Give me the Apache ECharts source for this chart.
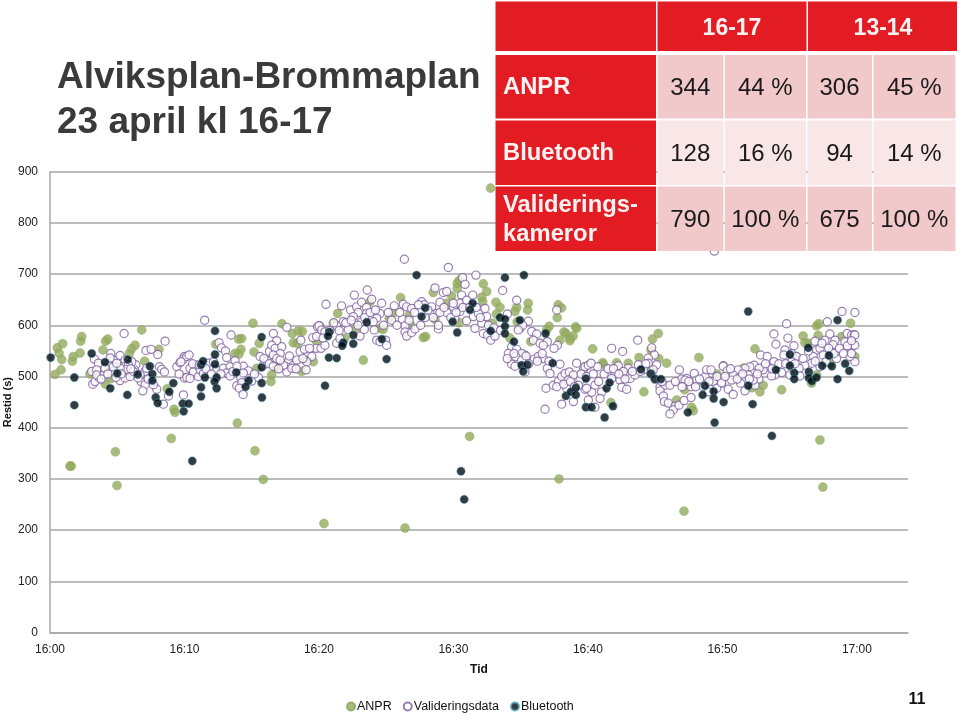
<!DOCTYPE html>
<html>
<head>
<meta charset="utf-8">
<style>html,body{margin:0;padding:0;background:#fff}#c{width:960px;height:715px}</style>
<script src="https://cdn.jsdelivr.net/npm/echarts@6/dist/echarts.min.js"></script>
</head>
<body>
<div id="c"></div>
<script>
// Each point: [minutes after 16:00, travel time in seconds]
const anprData = [[.37,504],[.82,513],[.87,533],[.54,556],[.67,546],[.94,564],[1.66,530],[1.73,539],[2.23,546],[2.28,569],[2.36,578],[4.14,569],[4.29,573],[3.94,552],[2.97,505],[4.11,485],[4.54,496],[4.83,522],[6.82,591],[6.32,561],[6.07,554],[5.9,545],[8.1,553],[7.04,530],[8.72,476],[9.22,436],[9.29,430],[9.02,379],[1.49,325],[1.58,325],[4.86,353],[4.98,287],[13.93,409],[15.24,355],[15.86,299],[12.32,563],[15.09,604],[14.03,573],[14.25,574],[14.2,553],[13.75,545],[14.05,544],[15.17,548],[15.56,565],[15.37,516],[16.48,503],[16.43,490],[16.73,518],[16.9,519],[17.25,603],[18.02,584],[18.46,589],[18.76,588],[18.09,566],[18.39,565],[18.71,510],[18.96,532],[19.58,529],[19.83,568],[21.07,604],[21.39,623],[32.76,868],[23.8,646],[23.3,532],[21.93,575],[22.8,596],[24.54,594],[24.78,592],[26.07,654],[25.58,625],[25.23,614],[26.72,620],[26.82,601],[27.76,576],[27.93,578],[28.62,612],[28.5,664],[29.49,643],[29.87,657],[30.28,672],[30.28,682],[30.43,688],[30.43,605],[32.22,681],[32.47,666],[32.1,655],[32.17,646],[33.16,645],[33.46,635],[33.2,622],[32.91,604],[34.7,635],[34.57,627],[34.74,607],[35.56,643],[35.51,630],[34.2,575],[37.12,598],[36.93,591],[35.74,568],[37.79,640],[38.04,634],[37.72,615],[38.22,587],[38.36,584],[37.92,571],[38.66,575],[38.9,579],[38.66,570],[39.08,597],[39.16,594],[40.35,554],[35.3,542],[39.78,519],[37.85,300],[31.2,383],[26.4,204],[20.37,213],[47.14,237],[57.25,376],[57.47,284],[41.1,527],[41.14,524],[42.13,527],[43,526],[43.8,537],[44.8,573],[45.23,584],[44.69,552],[45.27,535],[45.85,526],[44.16,470],[41.71,449],[44.74,513],[46.6,454],[47.2,474],[48.25,537],[47.7,440],[47.83,433],[49.6,505],[52.2,478],[52.42,554],[53.03,483],[52.79,470],[54.4,474],[56,579],[56.38,565],[56.13,566],[55.5,539],[57,599],[57.17,603],[57.12,580],[59.53,604],[58.86,578],[59.85,539],[56.63,487],[57,503],[57.99,526],[51.55,516]];
const validationData = [[5.51,584],[8.56,569],[7.14,551],[7.52,553],[8.01,543],[4.52,545],[5.21,541],[3.3,534],[4.71,532],[3.6,526],[4.34,523],[5.58,532],[6.38,523],[5.46,519],[6.08,529],[5.83,523],[3.1,510],[3.47,513],[3.18,485],[3.35,490],[3.65,498],[3.47,503],[4.02,503],[4.09,516],[5.58,510],[5.21,492],[5.58,497],[5.95,500],[5.71,514],[6.28,513],[7.07,510],[7.19,516],[6.77,490],[7.07,484],[6.9,472],[7.94,475],[7.69,484],[8.14,519],[8.31,514],[8.51,509],[8.81,462],[8.43,446],[9.43,519],[9.67,527],[9.99,539],[9.92,464],[10,497],[5.21,516],[4.71,519],[4.47,536],[4.96,526],[6.2,510],[6.7,503],
[11.5,610],[13.46,581],[12.57,566],[12.75,556],[13.04,550],[9.92,534],[10.17,539],[10.34,542],[9.74,529],[10.91,522],[10.41,516],[10.66,509],[10.17,498],[10.41,496],[11.03,500],[11.16,513],[11.41,506],[11.78,526],[12.15,516],[12.4,513],[12.15,529],[13.14,537],[13.76,531],[12.89,516],[13.39,519],[13.14,507],[13.39,501],[14.38,520],[14.75,511],[14.18,498],[14.38,507],[13.89,482],[14.26,488],[14.08,477],[14.36,465],[15,491],[15.5,498],[15.62,539],[16.17,531],[15.87,522],[16.32,549],[16.61,584],[16.86,570],[16.49,561],[16.74,555],[17.23,558],[17.11,545],[16.61,542],[16.86,535],[17.61,596],[17.73,529],[17.56,519],[17.61,509],[17.36,522],[18.1,522],[18.35,532],[18.6,549],[18.92,553],[19.47,539],[19.09,529],[19.04,513],[18.65,571],[19.54,576],[19.79,555],[19.89,597],[20.04,599],[17.98,516],[17.11,532],
[26.35,729],[29.62,713],[20.52,641],[21.68,638],[22.63,659],[23.59,669],[23.92,651],[24.66,643],[22.35,630],[22.8,636],[23.17,645],[23.54,635],[22.92,625],[22.55,617],[23.17,607],[23.54,623],[24.54,623],[24.29,614],[24.04,607],[24.11,591],[23.05,579],[23.37,592],[21.81,607],[21.31,599],[22.18,592],[20,599],[20.2,591],[20.44,587],[19.82,578],[20.15,555],[20.44,561],[21.31,565],[21.56,574],[24.29,571],[24.54,568],[24.96,571],[25.03,561],[25.16,625],[25.6,638],[26.27,641],[26.52,636],[26.2,612],[26.4,599],[26.4,587],[26.52,579],[26.89,586],[27.14,593],[27.56,600],[26.89,633],[27.64,646],[27.83,640],[28.38,636],[29,645],[28.63,673],[29.25,664],[29.5,666],[28.88,593],[28.88,600],[28.75,623],[28.26,623],[29.5,625],[30,636],[30.1,613],
[30.68,693],[30.86,680],[31.67,698],[33.66,668],[34.7,649],[30.61,659],[31.43,659],[30.48,643],[30.98,649],[29.99,643],[30.48,627],[30.98,609],[31.48,617],[31.6,594],[32.1,604],[32.34,633],[32.47,617],[31.85,623],[32.22,584],[32.54,581],[32.77,571],[33.09,579],[34.01,622],[35.57,608],[34.95,594],[35.15,600],[34.82,591],[35.82,588],[36.19,583],[35.94,571],[36.44,565],[36.98,568],[36.68,561],[37.68,630],[37.73,561],[37.48,555],[34.33,558],[34.08,545],[34.7,553],[35.07,545],[34.63,539],[34.33,524],[34.58,520],[35.32,509],[35.07,532],[36.01,534],[36.31,539],[36.68,535],[36.24,530],[37.92,524],[36.98,516],[37.18,506],[36.88,477],[37.43,483],[37.8,490],[38.05,500],[38.3,506],[38.62,509],[39.16,526],[38.92,503],[39.41,493],[39.66,513],[39.78,519],[40.03,522],[38.05,446],[36.81,436],[39.78,475],[38.92,451],[38.42,477],[37.68,480],[38.54,493],[39.29,483],
[43.7,571],[41.76,555],[42.58,549],[44.74,556],[44.94,542],[44.49,536],[45.11,523],[40.72,519],[40.23,526],[42.26,521],[43.75,523],[43,516],[42.63,510],[42.01,506],[41.76,496],[42.38,493],[43.13,496],[43.5,503],[42.76,495],[42.51,479],[42.88,475],[41.02,470],[40.9,457],[40.52,483],[40.28,469],[40.03,454],[40.52,440],[39.9,477],[45.36,480],[45.73,483],[46.1,483],[45.36,472],[45.61,462],[45.68,451],[45.98,448],[46.48,442],[46.35,435],[46.1,427],[46.77,444],[47.15,453],[47.67,459],[46.8,513],[46.97,495],[47.67,480],[47.91,506],[48.09,493],[47.34,496],[48.71,500],[48.83,513],[49.15,513],[49.33,490],[48.58,480],[49.95,487],[48.96,470],[50.07,521],[49.58,477],[47.22,493],[44.49,526],[44.86,513],[44.12,513],[49.4,745],
[58.89,627],[59.85,625],[57.8,607],[54.77,603],[53.83,583],[54.87,575],[53.98,563],[56.88,569],[57.99,583],[59.28,584],[59.61,581],[59.8,581],[58.37,571],[57.62,571],[58.24,562],[59.73,561],[59.11,568],[55.32,560],[54.65,552],[55.14,545],[57,552],[57.25,555],[57.5,542],[58.49,535],[58.12,548],[59.53,545],[59.85,529],[59.48,539],[52.84,542],[53.33,539],[53.83,529],[54.57,542],[55.51,539],[55.14,529],[56.75,539],[56.63,526],[56.13,522],[55.71,516],[53.4,519],[54.4,508],[53.9,503],[53.03,513],[52.71,495],[52.36,522],[52.04,519],[51.67,516],[51.17,513],[50.06,520],[50.36,511],[50.8,503],[50.68,493],[49.93,488],[51.35,487],[50.43,475],[50.8,465],[51.67,472],[52.41,483],[51.92,503],[57.25,519],[57.7,529],[55.76,501],[55.02,503],[53.65,501],[52.29,493],[52.74,516],[59.85,561],[59.6,545],[59.85,581],
[3.8,495],[4.3,505],[4.9,498],[5.3,505],[6.0,515],[6.55,497],[7.3,495],[9.6,505],[10.6,525],[11.1,523],[11.6,515],[12.0,505],[12.7,505],[13.6,510],[13.9,520],[15.2,505],[15.9,535],[16.3,525],[16.6,520],[17.0,515],[17.8,540],[18.3,515],[18.8,535],[19.3,555],[20.3,575],[20.8,590],[21.1,605],[21.5,590],[22.0,605],[22.4,610],[22.9,600],[23.4,615],[23.8,625],[24.2,630],[24.8,600],[25.4,610],[25.8,600],[26.0,625],[26.7,610],[27.1,625],[27.4,640],[27.9,615],[28.1,630],[28.5,615],[29.0,625],[29.3,635],[29.8,615],[30.2,625],[30.7,635],[31.2,635],[31.7,635],[32.0,615],[32.6,600],[33.0,595],[33.5,590],[34.0,535],[34.5,545],[35.4,540],[35.6,525],[36.6,545],[37.1,530],[38.2,485],[38.7,490],[39.0,480],[39.5,505],[39.9,500],[40.4,505],[40.8,490],[41.2,505],[41.5,515],[41.9,515],[42.3,505],[43.3,510],[43.9,510],[44.3,525],[44.7,505],[45.0,495],[45.5,490],[46.5,490],[47.0,480],[47.5,490],[48.0,480],[48.3,495],[49.0,490],[49.6,500],[50.2,500],[50.6,515],[51.1,495],[51.5,505],[52.0,495],[52.6,505],[53.2,525],[53.7,515],[54.2,525],[54.7,525],[55.4,525],[56.0,535],[56.4,550],[56.9,530],[57.4,565],[57.9,555],[58.3,545],[58.7,555],[59.0,545],[59.3,560],[59.6,570]];
const bluetoothData = [[.05,537],[1.81,498],[1.81,444],[3.1,545],[4.09,528],[5,506],[4.48,477],[5.78,533],[6.52,504],[5.75,464],[7.43,520],[7.61,505],[7.61,492],[9.17,487],[8.87,470],[7.86,459],[8.01,448],[9.87,447],[10.31,447],[9.94,432],[10.58,335],[11.23,523],[11.38,530],[11.52,498],[11.23,479],[11.23,461],[12.27,589],[12.27,543],[12.27,524],[12.39,498],[12.24,490],[12.39,477],[13.85,508],[14.77,492],[14.55,480],[15.74,577],[15.74,518],[15.74,487],[15.76,459],[20.45,482],[20.74,537],[21.32,536],[20.77,587],[20.67,579],[21.8,566],[21.73,560],[22.55,581],[22.55,564],[23.55,606],[24.68,573],[25.03,534],[27.26,698],[27.9,634],[27.63,617],[29.94,607],[30.28,586],[31.43,643],[31.23,630],[32.77,589],[33.83,693],[35.24,698],[33.46,615],[33.83,612],[33.83,598],[33.83,584],[34.94,610],[34.5,568],[36.85,584],[35.07,522],[35.51,523],[35.19,510],[37.38,526],[38.36,462],[38.73,470],[39.1,478],[39.1,464],[39.85,496],[39.85,440],[40.27,440],[41.39,477],[41.61,488],[41.24,420],[41.86,442],[43.94,514],[44.68,505],[44.98,495],[45.43,495],[47.43,430],[48.7,482],[48.53,464],[49.35,471],[49.35,457],[50.09,450],[49.42,410],[51.92,627],[51.92,482],[52.25,446],[53.68,384],[53.98,513],[55.02,543],[55.02,521],[55.34,507],[55.34,495],[56.38,556],[56.43,509],[56.43,497],[56.65,491],[57,498],[57.42,521],[57.92,541],[58.14,520],[58.56,495],[58.56,610],[59.13,525],[59.43,511],[30.56,315],[30.8,260]];

const seriesNames = ['ANPR', 'Valideringsdata', 'Bluetooth'];
const xTickMinutes = [0, 10, 20, 30, 40, 50, 60];
const xTickLabels = ['16:00', '16:10', '16:20', '16:30', '16:40', '16:50', '17:00'];
const titleLines = ['Alviksplan-Brommaplan', '23 april kl 16-17'];
const tableHeads = ['16-17', '13-14'];
const tableRows = [
  ['ANPR', '344', '44 %', '306', '45 %'],
  ['Bluetooth', '128', '16 %', '94', '14 %'],
  ['Valideringskameror', '790', '100 %', '675', '100 %']
];
const pageNumber = '11';

const FONT = '"Liberation Sans", Arial, sans-serif';
const RED = '#e31b23';
const colX = [657.5, 725, 807.5, 873.5, 957];
const rowY = [[55, 118.5], [120.5, 185], [186.5, 251]];
const rowFill = ['#f2c9ca', '#f9e6e7', '#f2c9ca'];
const graphics = [];
function rect(x, y, w, h, fill) {
  graphics.push({type: 'rect', z: 50, shape: {x, y, width: w, height: h}, style: {fill}});
}
function label(x, y, text, size, fill, weight, align) {
  graphics.push({type: 'text', z: 51, x, y, style: {text, font: (weight || 'normal') + ' ' + size + 'px ' + FONT, fill, align: align || 'center', verticalAlign: 'middle'}});
}
rect(495.5, 1.5, 160.5, 49.5, RED);
rect(657.5, 1.5, 149, 49.5, RED);
rect(808, 1.5, 149, 49.5, RED);
label(732, 28.5, tableHeads[0], 23, '#fdf3f3', 'bold');
label(883, 28.5, tableHeads[1], 23, '#fdf3f3', 'bold');
tableRows.forEach((row, r) => {
  const [y0, y1] = rowY[r];
  rect(495.5, y0, 160.5, y1 - y0, RED);
  const mid = (y0 + y1) / 2;
  if (r === 2) {
    label(503, mid - 13, 'Validerings-', 23.8, '#fdf3f3', 'bold', 'left');
    label(503, mid + 15.5, 'kameror', 23.8, '#fdf3f3', 'bold', 'left');
  } else {
    label(503, mid + 1, row[0], 23.8, '#fdf3f3', 'bold', 'left');
  }
  for (let c = 0; c < 4; c++) {
    rect(colX[c], y0, colX[c + 1] - colX[c] - 1.5, y1 - y0, rowFill[r]);
    label((colX[c] + colX[c + 1]) / 2 - 1, mid + 1.5, row[c + 1], 24, '#1a1a1a');
  }
});
titleLines.forEach((t, i) => label(57, 77.5 + i * 45, t, 37, '#3a3a3a', 'bold', 'left'));
label(917, 700, pageNumber, 16, '#111', 'bold');

const chart = echarts.init(document.getElementById('c'), null, {renderer: 'canvas'});
chart.setOption({
  animation: false,
  textStyle: {fontFamily: FONT},
  grid: {left: 50, right: 52, top: 171.7, bottom: 82.5, containLabel: false, outerBoundsMode: 'none'},
  xAxis: {
    type: 'value', min: 0, max: 63.8, interval: 10,
    name: 'Tid', nameLocation: 'middle', nameGap: 31,
    nameTextStyle: {fontSize: 12, fontWeight: 'bold', color: '#111'},
    axisLine: {show: true, lineStyle: {color: '#a6a6a6', width: 1.5}},
    axisTick: {show: false}, splitLine: {show: false},
    axisLabel: {fontSize: 12, color: '#222', margin: 11, showMaxLabel: false,
      formatter: v => { const i = xTickMinutes.indexOf(v); return i < 0 ? '' : xTickLabels[i]; }}
  },
  yAxis: {
    type: 'value', min: 0, max: 900, interval: 100,
    name: 'Restid (s)', nameLocation: 'middle', nameGap: 37, nameRotate: 90, nameMoveOverlap: false,
    nameTextStyle: {fontSize: 11, fontWeight: 'bold', color: '#111'},
    axisLine: {show: true, lineStyle: {color: '#a6a6a6', width: 1.5}},
    axisTick: {show: false},
    splitLine: {show: true, lineStyle: {color: '#a6a6a6', width: 1.5}},
    axisLabel: {fontSize: 12, color: '#222', margin: 12}
  },
  legend: {
    data: seriesNames, left: 341, top: 695, itemWidth: 8, itemHeight: 8, itemGap: 11,
    icon: 'circle', textStyle: {fontSize: 12.5, color: '#111', padding: [0, 0, 0, -3]}
  },
  graphic: graphics,
  series: [
    {name: seriesNames[0], type: 'scatter', z: 2, data: anprData, symbol: 'circle', symbolSize: 9,
      itemStyle: {color: '#93ab5f', borderColor: '#8aa358', borderWidth: .5}},
    {name: seriesNames[1], type: 'scatter', z: 3, data: validationData, symbol: 'circle', symbolSize: 8.2,
      itemStyle: {color: '#fff', borderColor: '#7d5f9e', borderWidth: 1.2}},
    {name: seriesNames[2], type: 'scatter', z: 4, data: bluetoothData, symbol: 'circle', symbolSize: 8.3,
      itemStyle: {color: '#000a14', borderColor: '#4ba8bc', borderWidth: .6}}
  ]
});
</script>
</body>
</html>
